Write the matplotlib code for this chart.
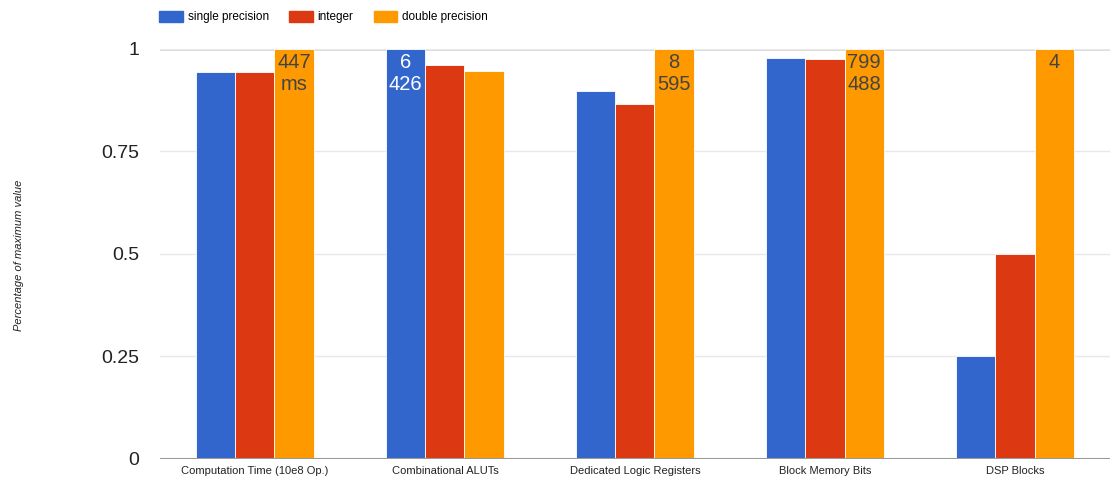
import numpy as np
import matplotlib
matplotlib.use("Agg")
import matplotlib.pyplot as plt
from matplotlib.patches import Patch

plt.rcParams['font.family'] = ['Liberation Sans', 'DejaVu Sans']

categories = ["Computation Time (10e8 Op.)", "Combinational ALUTs",
              "Dedicated Logic Registers", "Block Memory Bits", "DSP Blocks"]
series = ["single precision", "integer", "double precision"]
colors = ["#3366cc", "#dc3912", "#ff9900"]

single = [0.944, 1.0, 0.898, 0.978, 0.25]
integer = [0.944, 0.961, 0.866, 0.976, 0.5]
double = [1.0, 0.946, 1.0, 1.0, 1.0]

# labels printed at the top of the bar holding the maximum
single_labels = ["", "6\n426", "", "", ""]
integer_labels = ["", "", "", "", ""]
double_labels = ["447\nms", "", "8\n595", "799\n488", "4"]

fig = plt.figure(figsize=(11.1, 4.79), dpi=100)
ax = fig.add_axes([0.144, 0.0418, 0.856, 0.856])

x = np.arange(len(categories))
w = 0.206
values = [single, integer, double]
labels = [single_labels, integer_labels, double_labels]
txtcol = ["white", "#444444", "#444444"]

for i in range(3):
    pos = x + (i - 1) * w
    ax.bar(pos, values[i], width=w, color=colors[i], edgecolor="white",
           linewidth=0.6, zorder=3)
    for p, v, lab in zip(pos, values[i], labels[i]):
        if lab:
            ax.text(p, v - 0.011, lab, ha="center", va="top", fontsize=14.5,
                    color=txtcol[i], linespacing=1.16, zorder=4)

ax.set_xlim(-0.5, len(categories) - 0.5)
ax.set_ylim(0, 1)
ax.set_yticks([0, 0.25, 0.5, 0.75, 1])
ax.set_yticklabels(["0", "0.25", "0.5", "0.75", "1"], fontsize=14, color="#222222")
ax.set_xticks(x)
ax.set_xticklabels(categories, fontsize=8, color="#222222")
ax.tick_params(length=0)
ax.tick_params(axis="x", pad=5)
ax.tick_params(axis="y", pad=15)
ax.grid(axis="y", color="#e8e8e8", linewidth=1, zorder=0)
ax.axhline(1, color="#d8d8d8", linewidth=2, zorder=1)
ax.axhline(0, color="#999999", linewidth=1.5, zorder=5)
for s in ax.spines.values():
    s.set_visible(False)

fig.text(0.017, 0.468, "Percentage of maximum value", rotation=90, fontsize=8,
         style="italic", color="#222222", ha="center", va="center")

handles = [Patch(facecolor=c, edgecolor=c) for c in colors]
fig.legend(handles, series, loc="upper left", bbox_to_anchor=(0.134, 1.0),
           ncol=3, frameon=False, fontsize=8.5, handlelength=2.0,
           handleheight=1.1, columnspacing=1.7, handletextpad=0.42)

fig.savefig("out.png", dpi=100)
